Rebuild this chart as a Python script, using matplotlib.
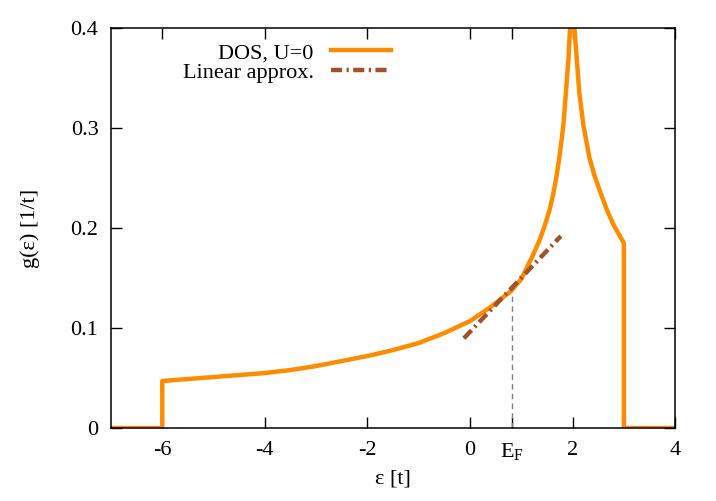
import numpy as np
import matplotlib
matplotlib.use("Agg")
import matplotlib.pyplot as plt

plt.rcParams['font.family'] = ['Liberation Serif', 'DejaVu Serif']
plt.rcParams['mathtext.fontset'] = 'custom'
plt.rcParams['mathtext.rm'] = 'Liberation Serif'
plt.rcParams['mathtext.it'] = 'Liberation Serif'

# DOS at U=0
eps = [-7.0, -6.0, -6.0, -5.5, -5.0, -4.5, -4.0, -3.5, -3.0, -2.5, -2.0, -1.5, -1.0,
       -0.5, -0.25, 0.0, 0.4, 0.8, 1.0, 1.2, 1.35, 1.46, 1.56, 1.63, 1.69, 1.74,
       1.78, 1.82, 1.87, 1.92, 1.95, 1.97, 2.0, 2.02, 2.035, 2.08, 2.13, 2.21,
       2.33, 2.43, 2.54, 2.67, 2.8, 2.9, 3.0, 3.0, 4.0]
dos = [0.0, 0.0, 0.047, 0.049, 0.051, 0.053, 0.055, 0.058, 0.062, 0.067, 0.072, 0.078, 0.085,
       0.095, 0.101, 0.107, 0.121, 0.137, 0.149, 0.170, 0.187, 0.203, 0.220, 0.236, 0.253, 0.270,
       0.286, 0.303, 0.336, 0.370, 0.40, 0.43, 0.60, 0.43, 0.40, 0.370, 0.336, 0.303,
       0.270, 0.252, 0.236, 0.218, 0.203, 0.194, 0.185, 0.0, 0.0]

# linear approximation around E_F
lin_eps = [-0.12, 1.77]
lin_dos = [0.0897, 0.192]

E_F = 0.81
g_EF = 0.137

xticks = [-6, -4, -2, 0, E_F, 2, 4]
xlabels = ['-6', '-4', '-2', '0', r'$\mathregular{E_F}$', '2', '4']
yticks = [0, 0.1, 0.2, 0.3, 0.4]
ylabels = ['0', '0.1', '0.2', '0.3', '0.4']

fig = plt.figure(figsize=(7.16, 5.01), dpi=100)
ax = fig.add_axes([0.155, 0.1457, 0.788, 0.798])

ax.plot([E_F, E_F], [0, g_EF], color='gray', lw=1.0, dashes=(4, 3))
ax.plot(eps, dos, color='#ff8c00', lw=3.2, label='DOS, U=0', solid_joinstyle='round')
ax.plot(lin_eps, lin_dos, color='#a0522d', lw=3.2, dashes=(2.5, 1, 0.5, 1),
        label='Linear approx.')

ax.set_xlim(-7, 4)
ax.set_ylim(0, 0.4)
ax.set_xticks(xticks)
ax.set_xticklabels(xlabels)
ax.set_yticks(yticks)
ax.set_yticklabels(ylabels)
ax.tick_params(direction='in', length=8, width=1, top=True, right=True,
               labelsize=16, pad=9)
for s in ax.spines.values():
    s.set_linewidth(1.1)

ax.set_xlabel('ε [t]', fontsize=16, labelpad=6)
ax.set_ylabel('g(ε) [1/t]', fontsize=16, labelpad=22)

leg = ax.legend(loc='upper right', bbox_to_anchor=(0.562, 0.937),
                bbox_transform=fig.transFigure, frameon=False, markerfirst=False,
                fontsize=16, handlelength=2.7, labelspacing=-0.05, borderpad=0,
                handletextpad=0.8)

fig.savefig('out.png', dpi=100)
